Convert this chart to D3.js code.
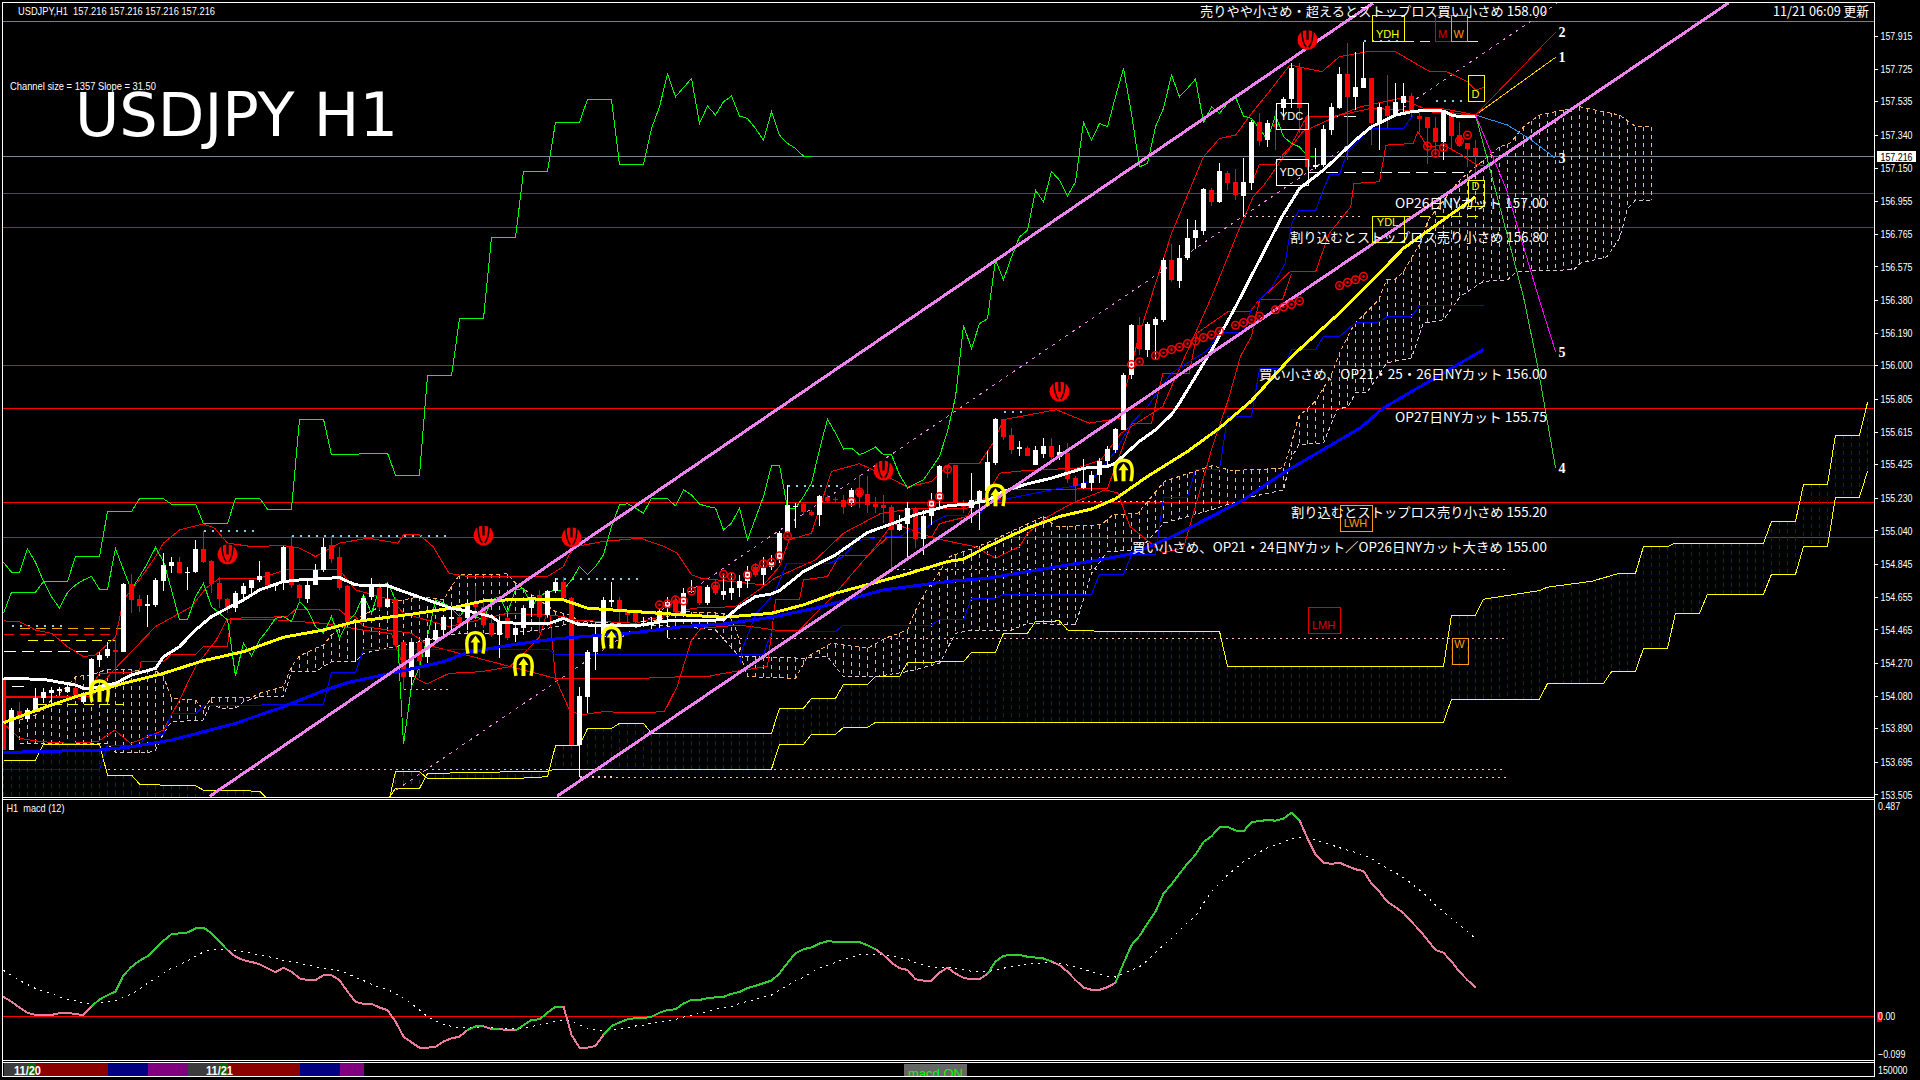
<!DOCTYPE html>
<html><head><meta charset="utf-8">
<style>html,body{margin:0;padding:0;background:#000;overflow:hidden}svg{display:block}</style>
<script src="https://cdn.jsdelivr.net/npm/d3@7"></script></head><body><svg id="c" width="1920" height="1080"></svg>
<script>
// ---- candles, bars -1 .. 183 ----
const firstBar=-1;
const open=[154.18,153.763,153.99,153.941,153.986,154.064,154.097,154.108,154.103,154.122,
154.044,154.093,154.287,154.312,154.345,154.331,154.729,154.64,154.603,154.607,
154.747,154.836,154.855,154.795,154.797,154.933,154.861,154.737,154.64,154.588,
154.671,154.704,154.749,154.797,154.719,154.747,154.941,154.723,154.642,154.723,
154.811,154.954,154.888,154.714,154.51,154.52,154.655,154.704,154.597,154.642,
154.394,154.186,154.394,154.306,154.403,154.461,154.527,154.539,154.529,154.626,
154.597,154.5,154.432,154.529,154.432,154.471,154.588,154.665,154.549,154.685,
154.743,154.646,153.792,154.073,154.331,154.419,154.626,154.636,154.568,154.558,
154.506,154.491,154.504,154.588,154.636,154.558,154.683,154.714,154.617,154.723,
154.665,154.679,154.704,154.747,154.83,154.782,154.83,154.869,155.028,155.175,
155.195,155.15,155.131,155.237,155.222,155.218,155.199,155.276,155.253,155.195,
155.189,155.175,155.043,155.078,155.17,154.989,155.125,155.218,155.416,155.422,
155.187,155.17,155.208,155.267,155.431,155.687,155.592,155.515,155.519,155.422,
155.486,155.528,155.466,155.49,155.344,155.286,155.315,155.364,155.445,155.509,
155.625,155.941,156.232,156.087,156.232,156.262,156.615,156.49,156.626,156.743,
156.781,157.018,156.95,157.119,157.065,156.985,157.061,157.412,157.309,157.402,
157.494,157.546,157.726,157.445,157.154,157.164,157.367,157.494,157.693,157.561,
157.614,157.668,157.406,157.507,157.455,157.523,157.565,157.449,157.441,157.377,
157.3,157.474,157.338,157.294,157.261];
const high=[154.18,154.006,154.044,154.006,154.122,154.122,154.132,154.132,154.145,154.17,
154.093,154.297,154.335,154.394,154.403,154.733,154.787,154.665,154.665,154.762,
154.908,154.888,154.888,154.83,154.985,155.034,154.869,154.772,154.646,154.685,
154.733,154.752,154.863,154.797,154.733,154.952,155.005,154.727,154.752,154.846,
154.995,155.005,154.946,154.723,154.52,154.665,154.762,154.737,154.733,154.655,
154.394,154.394,154.394,154.432,154.5,154.549,154.588,154.558,154.636,154.714,
154.636,154.529,154.539,154.539,154.481,154.597,154.665,154.694,154.694,154.762,
154.772,154.655,154.132,154.345,154.481,154.655,154.743,154.655,154.578,154.568,
154.539,154.539,154.588,154.655,154.655,154.704,154.752,154.714,154.723,154.752,
154.791,154.791,154.782,154.836,154.849,154.888,154.898,155.034,155.305,155.199,
155.199,155.16,155.247,155.247,155.237,155.247,155.286,155.364,155.358,155.237,
155.247,155.189,155.131,155.208,155.179,155.16,155.257,155.422,155.422,155.422,
155.218,155.373,155.276,155.499,155.693,155.687,155.635,155.558,155.528,155.528,
155.577,155.577,155.538,155.548,155.354,155.455,155.383,155.46,155.528,155.635,
155.955,156.242,156.281,156.252,156.281,156.621,156.708,156.698,156.853,156.844,
157.028,157.028,157.177,157.129,157.144,157.203,157.426,157.464,157.426,157.484,
157.561,157.755,157.755,157.455,157.261,157.396,157.523,157.736,157.876,157.819,
157.882,157.668,157.523,157.688,157.639,157.639,157.581,157.474,157.445,157.441,
157.484,157.474,157.416,157.294,157.309];
const low=[153.763,153.763,153.938,153.928,153.986,154.035,154.035,154.083,154.093,154.073,
154.035,154.044,154.248,154.297,154.132,154.331,154.558,154.568,154.481,154.597,
154.69,154.795,154.791,154.694,154.791,154.849,154.675,154.588,154.558,154.568,
154.636,154.675,154.743,154.694,154.685,154.694,154.704,154.626,154.617,154.723,
154.801,154.849,154.694,154.5,154.277,154.51,154.636,154.578,154.588,154.364,
154.116,154.141,154.18,154.267,154.384,154.413,154.442,154.481,154.461,154.539,
154.471,154.423,154.297,154.403,154.394,154.432,154.539,154.442,154.539,154.675,
154.64,153.792,153.608,153.976,154.229,154.413,154.597,154.5,154.5,154.481,
154.481,154.461,154.461,154.413,154.558,154.539,154.675,154.607,154.607,154.665,
154.636,154.636,154.655,154.704,154.772,154.723,154.811,154.849,155.024,155.053,
155.131,155.121,155.067,155.199,155.208,155.137,155.179,155.17,155.14,155.14,
155.082,154.82,155.034,154.879,154.937,154.898,155.073,155.179,155.344,155.189,
155.14,155.082,155.04,155.247,155.422,155.567,155.486,155.47,155.47,155.418,
155.46,155.441,155.451,155.315,155.208,155.28,155.267,155.315,155.412,155.49,
155.625,155.922,156.058,156.048,156.029,156.252,156.485,156.452,156.611,156.679,
156.756,156.925,156.944,157.018,156.96,156.863,157.018,157.276,157.27,157.251,
157.445,157.494,157.348,157.135,157.144,157.154,157.338,157.488,157.193,157.484,
157.61,157.28,157.251,157.377,157.445,157.455,157.445,157.358,157.173,157.222,
157.193,157.251,157.27,157.154,157.125];
const close=[153.763,153.996,153.961,153.996,154.064,154.099,154.112,154.116,154.132,154.083,
154.083,154.291,154.316,154.349,154.335,154.729,154.636,154.601,154.613,154.752,
154.84,154.857,154.791,154.799,154.933,154.855,154.729,154.64,154.588,154.675,
154.714,154.749,154.776,154.723,154.727,154.943,154.723,154.646,154.723,154.811,
154.943,154.873,154.704,154.51,154.52,154.646,154.729,154.597,154.64,154.374,
154.19,154.394,154.283,154.413,154.461,154.535,154.535,154.504,154.607,154.597,
154.491,154.432,154.51,154.413,154.471,154.588,154.636,154.539,154.69,154.739,
154.646,153.792,154.077,154.335,154.419,154.636,154.634,154.578,154.549,154.51,
154.514,154.51,154.574,154.626,154.568,154.679,154.69,154.617,154.71,154.679,
154.685,154.704,154.747,154.801,154.782,154.82,154.859,155.024,155.189,155.183,
155.15,155.131,155.241,155.212,155.216,155.179,155.276,155.237,155.189,155.179,
155.17,155.04,155.078,155.173,154.989,155.121,155.218,155.416,155.402,155.199,
155.179,155.218,155.272,155.437,155.687,155.583,155.505,155.523,155.474,155.509,
155.528,155.466,155.495,155.338,155.299,155.315,155.364,155.445,155.513,155.631,
155.941,156.232,156.097,156.238,156.271,156.615,156.498,156.626,156.743,156.785,
157.024,156.95,157.127,157.061,156.989,157.065,157.412,157.303,157.406,157.387,
157.546,157.726,157.494,157.154,157.164,157.371,157.499,157.693,157.561,157.616,
157.668,157.406,157.503,157.449,157.532,157.565,157.474,157.431,157.377,157.3,
157.474,157.333,157.276,157.257,157.216];
// ---- moving averages: [bar, price] ----
const maWhite=[[-1,154.18],[4,154.174],[8,154.141],[9,154.122],[10,154.122],[13,154.151],[15,154.2],[18,154.238],[19,154.306],[21,154.364],[23,154.461],[25,154.539],[27,154.588],[29,154.636],[31,154.694],[34,154.743],[36,154.752],[41,154.766],[43,154.723],[47,154.719],[49,154.685],[52,154.636],[55,154.588],[58,154.562],[60,154.539],[61,154.504],[67,154.496],[69,154.529],[71,154.491],[78,154.485],[82,154.514],[89,154.52],[91,154.597],[93,154.655],[95,154.671],[96,154.69],[99,154.801],[103,154.898],[107,155.028],[110,155.078],[113,155.131],[117,155.183],[120,155.195],[122,155.214],[124,155.267],[127,155.311],[130,155.344],[132,155.373],[134,155.402],[137,155.412],[138,155.431],[139,155.474],[141,155.558],[143,155.625],[145,155.713],[146,155.781],[150,156.087],[153,156.339],[156,156.611],[158.8,156.863],[161,157.028],[164,157.135],[166,157.222],[168,157.309],[170,157.387],[173,157.455],[175,157.474],[177,157.484],[179,157.478],[180,157.455],[181,157.445],[183,157.449]];
const maYellow=[[-1,153.922],[4,154.009],[8,154.073],[14,154.151],[19,154.209],[24,154.283],[29,154.335],[34,154.419],[39,154.461],[43,154.51],[50,154.553],[55,154.588],[59,154.63],[65,154.642],[69,154.636],[72,154.588],[78,154.568],[84,154.549],[89,154.535],[95,154.558],[99,154.607],[103,154.675],[108,154.737],[112,154.787],[117,154.859],[119,154.873],[122,154.946],[127,155.053],[131,155.121],[135,155.164],[138,155.224],[142,155.354],[147,155.499],[151,155.635],[155,155.794],[160,156.05],[166,156.304],[170,156.49],[174,156.68],[180,156.88],[183,156.979]];
const maBlue=[[-1,153.749],[11,153.763],[15,153.782],[20,153.821],[28,153.918],[34,154.015],[39,154.108],[42,154.155],[49,154.225],[54,154.277],[57,154.331],[63,154.378],[68,154.409],[70,154.417],[78,154.446],[84,154.481],[89,154.496],[95,154.535],[101,154.593],[109,154.694],[117,154.743],[122,154.762],[130,154.824],[136,154.869],[140,154.904],[145,155.001],[150,155.121],[154,155.218],[159,155.375],[168.6,155.636],[171.5,155.752],[184,156.091]];
// ---- thin stepped / band lines ----
const kijunBlue=[[-1,153.65],[11,153.65],[12,153.792],[16,153.792],[17,153.856],[19,153.856],[20,153.973],[23,153.973],[24,154.021],[39,154.029],[40,154.215],[43,154.215],[44,154.349],[67,154.349],[68,154.32],[94,154.32],[95,154.452],[103,154.452],[104,154.49],[115,154.49],[116,154.52],[119,154.52],[120,154.646],[123,154.646],[124,154.669],[135,154.669],[136,154.785],[139,154.785],[140,154.898],[143,154.898],[144,155.234],[147,155.234],[148,155.393],[151,155.393],[152,155.703],[155,155.703],[156,155.98],[159,155.98],[160,156.09],[163,156.09],[164,156.168],[166,156.168],[168,156.246],[171,156.252],[172,156.285],[175,156.285],[176,156.346],[184,156.346]];
const tenkanBlue=[[91.1,154.267],[91.3,154.345],[93.1,154.558],[95.4,154.675],[96.9,154.849],[102.3,154.849],[104,154.888],[105.6,154.979],[108.7,155.001],[111.2,155.005],[112.2,155.043],[114.3,155.053],[115.3,155.092],[116.8,155.125],[120.9,155.125],[122,155.2],[130,155.276],[133,155.299],[135,155.33],[138,155.5],[140,155.664],[142,155.76],[145,155.955],[147.2,156.019],[149.5,156.087],[151,156.188],[154,156.188],[155,156.33],[157.6,156.456],[159.2,156.591],[160,156.824],[160.9,156.898],[163,156.898],[163.8,156.999],[164.8,157.111],[166,157.111],[167,157.241],[169.8,157.377],[174,157.377],[175.5,157.474],[178.6,157.488],[180.7,157.445]];
const bandUpper=[[-1,154.514],[1,154.51],[3,154.461],[5,154.442],[7,154.364],[9,154.306],[10.5,154.316],[13,154.419],[14,154.636],[16,154.752],[18,154.888],[19,154.966],[21,155.043],[24,155.078],[25.4,155.053],[27,154.966],[30,154.946],[34,154.952],[36,154.937],[38,154.888],[41,154.966],[44.5,154.995],[48.3,154.966],[49,155.014],[51,155.014],[52.7,154.946],[54.7,154.791],[57,154.772],[67,154.772],[69,154.83],[69.7,154.898],[70.5,154.946],[74,154.976],[78.6,154.995],[81.6,154.946],[83.2,154.908],[85,154.782],[86.2,154.762],[94,154.723],[96,154.83],[97.2,154.985],[100,155.024],[102.5,155.383],[106,155.428],[109,155.364],[112,155.292],[115,155.325],[117.3,155.431],[121,155.431],[122.7,155.548],[124,155.684],[130.6,155.742],[134.7,155.664],[138.7,155.693],[139,155.815],[141,156.184],[145,156.766],[149,157.212],[151,157.319],[153,157.338],[155,157.464],[157.7,157.62],[159.8,157.746],[163.8,157.707],[166,157.794],[169.4,157.823],[173,157.823],[177.3,157.707],[179.4,157.707],[182,157.649],[183,157.6],[184,157.616]];
const bandMiddle=[[-1,154.073],[6,154.077],[10,154.073],[12.4,154.209],[18,154.481],[22.5,154.597],[24.3,154.704],[26,154.762],[31,154.762],[34.3,154.811],[41,154.811],[43,154.694],[47.6,154.636],[49,154.558],[54.7,154.481],[62,154.558],[67,154.549],[69,154.539],[70,154.52],[78,154.5],[85.2,154.588],[90.5,154.597],[95.4,154.762],[100.5,154.869],[104,155.024],[108.7,155.14],[113.3,155.17],[119.4,155.17],[121.7,155.228],[123.5,155.373],[127,155.389],[133.2,155.402],[136.2,155.451],[138.7,155.606],[143.9,155.761],[150,156.397],[153.4,156.785],[155.2,156.979],[156.7,157.057],[159,157.212],[161.4,157.358],[166,157.455],[168.6,157.503],[173.6,157.552],[176.5,157.494],[178.6,157.494],[181,157.474],[183,157.455]];
const bandLower=[[-1,153.918],[1,153.831],[3.7,153.812],[7.2,153.802],[10.8,153.812],[12.9,153.879],[14.9,153.802],[16,153.821],[19,153.879],[21,154.054],[23,154.248],[25.6,154.403],[26.9,154.52],[33,154.52],[39,154.5],[44,154.46],[47.5,154.44],[49,154.25],[50.6,154.18],[51.9,154.147],[54.7,154.209],[58.8,154.219],[62.3,154.248],[63.6,154.306],[66,154.42],[67.2,154.6],[68,154.18],[69.7,154.0],[71,153.967],[74,153.986],[78.2,153.98],[81.6,153.986],[83.2,154.132],[85,154.403],[86.2,154.471],[91,154.49],[95.4,154.461],[98.5,154.461],[103,154.675],[108,154.946],[110.2,155.082],[115.3,154.995],[120.4,154.946],[123,154.879],[126,154.946],[127,155.024],[129.6,155.121],[132.6,155.199],[136.7,155.276],[138.3,155.257],[139.8,155.063],[143.9,154.911],[146.5,154.937],[150,155.509],[152.1,155.8],[153.6,156.05],[155,156.17],[156,156.378],[159.8,156.543],[163,156.543],[164.7,156.766],[167.4,156.921],[167.8,157.057],[171,157.067],[171.8,157.28],[175.2,157.29],[175.8,157.358],[177,157.27],[179,157.28],[181,157.23],[183,157.17],[184,157.16]];
const stepRedA=[[-1,154.07],[8,154.07],[9,154.054],[11,154.209],[16,154.219],[16.2,154.277],[19,154.277],[20,154.32],[23,154.32],[24,154.364],[27,154.364],[27.4,154.529],[34.5,154.539],[35.4,154.578],[41,154.578],[42,154.539],[43,154.539],[44,154.481],[50,154.442],[52,154.374],[68,154.18],[78.6,154.18],[83.7,154.189],[87,154.19],[89,154.209],[94.5,154.25],[95.5,154.636],[98.5,154.636],[99,154.752],[102,154.772],[103.5,154.892],[107,154.892],[109.5,155.0],[115,155.0],[116,155.08],[119.5,155.121],[120.5,155.218],[123.5,155.218],[124,155.276],[133,155.276],[133.5,155.286],[137,155.286],[140,155.664],[142.5,155.664],[143.9,155.951],[147.2,155.951],[148.2,156.188],[152,156.31],[154.8,156.31],[156,156.384],[158.9,156.384],[160,156.533]];
const stepRedB=[[155.2,157.076],[156,157.17],[157.9,157.17],[159.8,157.27],[161.9,157.445],[165,157.445],[168,157.474],[170,157.494],[174,157.484],[183,157.455]];
// ---- lagging lines ----
const laggingStep=[[-1,154.558],[0,154.681],[3,154.681],[4,154.743],[7,154.743],[8,154.888],[11,154.888],[12,155.15],[15,155.15],[16,155.224],[19,155.224],[20,155.193],[23,155.193],[24,155.078],[27,155.078],[28,155.228],[31,155.228],[32,155.164],[35,155.164],[36,155.687],[39,155.687],[40,155.48],[43,155.48],[44,155.49],[47,155.49],[48,155.362],[51,155.362],[52,155.94],[55,155.94],[56,156.271],[59,156.271],[60,156.743],[63,156.743],[64,157.127],[67,157.127],[68,157.412],[71,157.412],[72,157.546],[75,157.546],[76,157.168],[79,157.168],[80,157.377],[81,157.503],[82,157.693],[83,157.561],[85,157.668],[86,157.406],[87,157.507],[88,157.455],[89,157.532],[90,157.565],[91,157.449],[92,157.435],[93,157.377],[94,157.309],[95,157.474],[96,157.338],[97,157.29],[98,157.261],[99,157.216],[100,157.216]];
const laggingClose=[154.855,154.797,154.797,154.933,154.855,154.743,154.655,154.588,154.679,154.723,
154.752,154.772,154.698,154.698,154.933,154.811,154.694,154.772,154.849,154.941,
154.859,154.694,154.52,154.52,154.655,154.733,154.597,154.558,154.52,154.194,
154.384,154.31,154.403,154.461,154.529,154.539,154.51,154.626,154.578,154.481,
154.442,154.539,154.413,154.51,154.558,154.665,154.558,154.704,154.737,154.636,
153.796,154.132,154.248,154.423,154.636,154.617,154.588,154.539,154.597,154.539,
154.52,154.636,154.655,154.562,154.694,154.704,154.597,154.655,154.685,154.69,
154.694,154.752,154.83,154.782,154.83,154.898,155.063,155.189,155.195,155.17,
155.14,155.228,155.226,155.224,155.183,155.276,155.247,155.193,155.179,155.17,
155.043,155.082,155.17,154.985,155.111,155.237,155.416,155.42,155.17,155.17,
155.237,155.315,155.509,155.687,155.606,155.513,155.519,155.48,155.499,155.525,
155.48,155.48,155.364,155.286,155.311,155.334,155.402,155.47,155.616,155.815,
156.232,156.097,156.242,156.271,156.611,156.498,156.63,156.747,156.785,157.018,
156.95,157.127,157.076,156.985,157.067,157.412,157.309,157.406,157.387,157.561,
157.726,157.464,157.154,157.173,157.387,157.494,157.688,157.561,157.61,157.664,
157.412,157.503,157.464,157.523,157.561,157.449,157.435,157.377,157.309,157.455,
157.329,157.29,157.27,157.216,157.216];
// ---- clouds ----
const cloudTop=[[1,153.938],[3,153.967],[5,154.054],[7,154.132],[8,154.19],[10,154.2],[12,154.233],[18,154.225],[19,154.19],[20,154.064],[23,154.054],[24,153.996],[25,154.068],[30,154.068],[31,154.093],[34,154.132],[35,154.248],[36,154.31],[38,154.355],[39,154.374],[40,154.432],[42,154.5],[44,154.549],[47,154.617],[51,154.655],[54,154.636],[55,154.714],[56,154.782],[62,154.787],[63,154.733],[68,154.568],[70,154.549],[71,154.5],[78,154.481],[84,154.568],[89,154.558],[90.1,154.52],[91,154.403],[91.5,154.25],[92,154.19],[98,154.18],[99.5,154.306],[102.5,154.384],[107,154.355],[109.2,154.413],[112,154.461],[112.8,154.558],[114.3,154.685],[117.3,154.888],[121.9,154.966],[124.5,155.024],[129,155.121],[130.6,155.063],[133.7,155.067],[136.2,155.073],[137.7,155.131],[140.8,155.14],[144.1,155.325],[150,155.416],[152.5,155.389],[156.1,155.394],[159,155.404],[159.9,155.53],[160.9,155.704],[163,155.791],[164.9,155.936],[166.1,156.081],[167.8,156.236],[170.9,156.381],[171.9,156.498],[173,156.501],[174,156.546],[176.1,156.71],[177.1,156.846],[181,157.076],[186,157.27],[187.3,157.29],[189,157.387],[191,157.455],[196,157.503],[201,157.455],[202.5,157.406],[203,157.387],[205,157.387]];
const cloudBottom=[[1,153.802],[12,153.802],[13,153.747],[17,153.747],[18,153.763],[19,153.86],[20,153.928],[24,153.938],[25,154.044],[26,154.005],[28,154.005],[29,154.044],[31,154.073],[34,154.073],[35,154.219],[38,154.219],[40,154.277],[43,154.277],[44,154.326],[48,154.364],[52,154.403],[56,154.442],[62,154.442],[66,154.461],[70,154.5],[72,154.51],[78,154.491],[84,154.481],[88,154.461],[91,154.306],[92,154.306],[99,154.297],[102,154.306],[104,154.19],[108,154.19],[112,154.219],[116,154.267],[118,154.442],[120,154.461],[125,154.461],[127,154.5],[133,154.491],[135,154.791],[137,154.917],[141,154.927],[144,155.082],[150,155.16],[155.3,155.239],[159,155.274],[159.9,155.452],[160.9,155.539],[164,155.549],[165.7,155.742],[167.1,155.762],[168,155.839],[169.4,155.839],[171.9,156.014],[175,156.043],[176.5,156.246],[179,156.265],[181.1,156.401],[184,156.488],[187,156.497],[188.2,156.546],[195.3,156.556],[196.1,156.594],[199.4,156.63],[201,156.737],[201.4,156.805],[202,156.911],[203,156.96],[205,156.96]];
const kumoUpperOld=[[-1,153.705],[3,153.705],[4,153.796],[11,153.796],[12,153.618],[15,153.618],[16,153.565],[19,153.559],[23,153.555],[24,153.53],[31,153.524],[32,153.48]];
const kumoUpper=[[47.3,153.491],[48,153.637],[51,153.637],[52,153.598],[63,153.598],[67,153.608],[68,153.788],[71,153.788],[72,153.889],[75,153.889],[76,153.918],[79,153.918],[80,153.86],[95,153.86],[96,154.006],[99,154.006],[100,154.064],[103,154.064],[104,154.145],[107,154.145],[108,154.19],[111,154.19],[112,154.273],[115,154.273],[116,154.277],[119,154.277],[120,154.331],[123,154.331],[124,154.442],[127,154.442],[128,154.51],[131,154.514],[132,154.461],[136,154.454],[151,154.454],[152,154.25],[179,154.25],[180,154.547],[183,154.547],[184,154.64],[191,154.69],[192,154.71],[197.5,154.744],[201,154.791],[203,154.791],[204,154.946],[207,154.946],[207.7,154.962],[219,154.966],[220,155.092],[223,155.092],[224,155.307],[227,155.307],[228,155.594],[231,155.594],[232,155.784]];
const kumoLower=[[47.3,153.491],[48,153.54],[51,153.54],[52,153.627],[67,153.641],[68,153.652],[95,153.652],[96,153.796],[99,153.796],[100,153.854],[103,153.854],[104,153.895],[107,153.895],[108,153.924],[179,153.924],[180,154.058],[191,154.058],[192,154.15],[199,154.15],[200,154.219],[203,154.219],[204,154.355],[207,154.355],[208,154.558],[211,154.558],[212,154.669],[219,154.669],[220,154.785],[223,154.785],[224,154.946],[227,154.946],[228,155.234],[231,155.234],[232,155.383]];
const panelFloor=153.4;
// ---- channel ----
const channelA=[[24.8,153.495],[170.2,158.106]];
const channelB=[[68.2,153.495],[214.6,158.106]];
const channelMid=[[47.3,153.506],[193.2,158.104]];
// ---- forecast ----
const forecast1=[[183,157.455],[193,157.79]];
const forecast2=[[183,157.455],[193,157.936]];
const forecast3=[[183,157.455],[187,157.397],[190,157.309],[193,157.203]];
const forecast4=[[183,157.455],[184.4,157.212],[189,156.397],[190.7,156.013],[193,155.404]];
const forecast5=[[183,157.455],[186.9,157.018],[191,156.378],[193,156.08]];
const forecastNames=["1","2","3","4","5"];
// ---- price levels ----
const levelPrices=[158,157,156.8,156,155.75,155.2,155];
const levelText=["売りやや小さめ・超えるとストップロス買い小さめ 158.00","OP26日NYカット 157.00","割り込むとストップロス売り小さめ 156.80","買い小さめ、OP21・25・26日NYカット 156.00","OP27日NYカット 155.75","割り込むとストップロス売り小さめ 155.20","買い小さめ、OP21・24日NYカット／OP26日NYカット大きめ 155.00"];
const lastPrice=157.216;
const priceTicks=[157.915,157.725,157.535,157.34,157.15,156.955,156.765,156.575,156.38,156.19,156,155.805,155.615,155.425,155.23,155.04,154.845,154.655,154.465,154.27,154.08,153.89,153.695,153.505];
const macdTicks=[0.487,0,-0.099];
// ---- dotted/dashed levels: [fromBar,toBar,price] ----
const longDotted=[[12,186.8,153.652],[71,187,153.604],[110.7,187,154.81],[82,187,154.41],[133,144,155.208],[154,169,156.867],[49,55,154.118],[71,75,153.608]];
const skyDotted=[[24,31,155.038],[35,55,155.008],[0,7,154.49],[68,79,154.758],[97,104,155.299],[124,127,155.732],[169,174,157.887],[178,182,157.538]];
const dashOrange=[[1,14,154.471]];
const dashRed=[[-1,13,154.436]];
const dashYellow=[[2,13,154.401],[3,14,154.029],[174,184,157.883],[174,184,156.863]];
const dashWhite=[[-1,10.3,154.335],[0,2,154.135],[162,168,157.445],[162,182,157.121]];
// ---- level tags ----
const tagNames=["YDH","M","W","D","D","YDC","YDO","YDL","LWH","LMH","W"];
const tagBars=[172,178.9,180.9,183,183,160,160,172,168,164,181];
const tagPrices=[157.959,157.959,157.959,157.61,156.999,157.448,157.123,156.79,155.114,154.518,154.337];
// ---- signals ----
const topSignals=[[27,154.901],[59,155.011],[70,155.0],[109,155.389],[131,155.847],[162,157.892]];
const bottomSignals=[[11,154.101],[58,154.382],[64,154.252],[75,154.411],[123,155.239],[139,155.384]];
const rings=[[81,154.607],[82,154.613],[83,154.636],[84,154.63],[85,154.688],[88,154.717],[89,154.785],[90,154.772],[92,154.782],[93,154.82],[94,154.846],[95,154.855],[96,154.892],[97,155.008],[105,155.208],[106,155.263],[115,155.195],[116,155.237],[117,155.396],[140,156.004],[141,156.021],[143,156.056],[144,156.073],[145,156.091],[146,156.106],[147,156.126],[148,156.141],[149,156.161],[150,156.178],[151,156.198],[153,156.233],[154,156.248],[155,156.265],[156,156.287],[158,156.323],[159,156.339],[160,156.354],[161,156.374],[166,156.463],[167,156.482],[168,156.497],[169,156.517],[177,157.274],[178,157.232],[179,157.266],[181,157.305],[182,157.338]];
// ---- macd, bars -1 .. 183 ----
const macdMain=[.044,.033,.020,.008,.003,.003,.003,.007,.008,.005,.003,.023,.038,.048,.056,.093,.112,.126,.136,.154,.171,.186,.188,.190,.199,.201,.188,.169,.150,.135,.127,.123,.118,.109,.100,.110,.101,.086,.082,.082,.093,.093,.082,.056,.033,.028,.028,.020,.014,-.012,-.046,-.059,-.071,-.071,-.069,-.057,-.050,-.046,-.031,-.023,-.023,-.029,-.028,-.032,-.032,-.020,-.008,-.007,.008,.022,.022,-.042,-.071,-.071,-.067,-.042,-.022,-.014,-.007,-.004,
-.004,-.001,.008,.014,.016,.029,.037,.037,.041,.043,.044,.051,.055,.064,.069,.075,.081,.097,.121,.143,.152,.156,.165,.170,.169,.168,.168,.168,.161,.152,.139,.121,.109,.105,.084,.081,.081,.099,.110,.097,.087,.084,.084,.096,.124,.137,.139,.139,.135,.133,.131,.124,.116,.101,.082,.065,.060,.060,.066,.076,.120,.161,.182,.210,.237,.278,.299,.323,.346,.366,.395,.408,.428,.429,.421,.419,.440,.442,.445,.443,
.448,.461,.444,.403,.367,.348,.345,.348,.340,.333,.329,.301,.282,.259,.247,.234,.214,.195,.173,.150,.144,.124,.101,.082,.066];
const macdSignal=[.104,.093,.081,.072,.063,.056,.052,.043,.039,.035,.029,.029,.031,.034,.035,.043,.051,.061,.075,.086,.097,.109,.116,.126,.136,.146,.152,.152,.150,.149,.147,.143,.139,.136,.131,.127,.123,.120,.116,.112,.109,.106,.103,.097,.088,.081,.073,.066,.061,.051,.041,.029,.014,-.001,-.010,-.018,-.023,-.026,-.026,-.026,-.023,-.026,-.029,-.028,-.028,-.026,-.023,-.020,-.016,-.011,-.008,-.012,-.020,-.027,-.031,-.032,-.032,-.029,-.027,-.022,
-.020,-.016,-.012,-.010,-.007,-.002,.002,.007,.011,.016,.020,.022,.029,.034,.038,.044,.048,.060,.069,.082,.088,.099,.109,.116,.122,.129,.133,.139,.141,.141,.140,.137,.133,.129,.121,.116,.111,.111,.111,.108,.106,.102,.101,.101,.105,.109,.112,.116,.118,.120,.121,.121,.119,.116,.112,.107,.101,.096,.091,.089,.097,.105,.112,.127,.144,.161,.176,.195,.212,.227,.256,.282,.301,.320,.335,.350,.361,.372,.382,.388,
.394,.403,.406,.406,.400,.393,.388,.382,.376,.371,.365,.357,.346,.335,.325,.314,.301,.286,.271,.252,.237,.222,.207,.192,.176];
// ---- session strip ----
const sessionBars=[-1,2,3,12,17,22,26,27,36,41,44];
const sessionKinds=["gap","start","tokyo","london","ny","gap","start","tokyo","london","ny"];
const dayLabels=[{text:"11/20",bar:2},{text:"11/21",bar:26}];
const strings={header:"USDJPY,H1  157.216 157.216 157.216 157.216",updated:"11/21 06:09 更新",channel:"Channel size = 1357 Slope = 31.50",title:"USDJPY H1",macd:"H1  macd (12)",button:"macd ON",volume:"150000"};

// ====== drawing ======
const svg=d3.select("#c");
const sans="'Liberation Sans',Arial,sans-serif", jp="'Noto Sans CJK JP','Noto Sans',sans-serif";
const X=d3.scaleLinear().domain([0,183]).range([11.5,1475.5]);
const Y=d3.scaleLinear().domain([155,158]).range([537.3,21.3]);
const M=d3.scaleLinear().domain([-0.099,0.487]).range([1060,801.3]);
const RIGHT=1874;
svg.append("rect").attr("width",1920).attr("height",1080).attr("fill","#000");
const defs=svg.append("defs");
defs.append("clipPath").attr("id","mainClip").append("rect").attr("x",3).attr("y",3).attr("width",RIGHT-3).attr("height",794);
defs.append("clipPath").attr("id","btnClip").append("rect").attr("x",904).attr("y",1064).attr("width",63).attr("height",12);
const main=svg.append("g").attr("clip-path","url(#mainClip)").style("shape-rendering","crispEdges");
const line=d3.line().x(d=>X(d[0])).y(d=>Y(d[1]));
const poly=(g,data,color,w,dash)=>{const p=g.append("path").attr("d",line(data)).attr("fill","none").attr("stroke",color).attr("stroke-width",w);if(dash)p.attr("stroke-dasharray",dash);return p;};
const interp=(arr,i)=>{if(i<arr[0][0]||i>arr[arr.length-1][0])return null;for(let k=1;k<arr.length;k++){if(i<=arr[k][0]){const a=arr[k-1],b=arr[k];return a[1]+(b[1]-a[1])*(i-a[0])/(b[0]-a[0]||1);}}return null;};
const pix=v=>Math.floor(v)+0.5;
const vertical=(g,i,a,b,color,dash)=>{g.append("line").attr("x1",pix(X(i))).attr("x2",pix(X(i))).attr("y1",Y(a)).attr("y2",Y(b)).attr("stroke",color).attr("stroke-dasharray",dash);};

// levels
main.selectAll(".lv").data(levelPrices).join("line").attr("x1",3).attr("x2",RIGHT).attr("y1",d=>pix(Y(d))).attr("y2",d=>pix(Y(d))).attr("stroke",(d,i)=>i===0?"#2f8fe0":"#ff0000");
main.append("line").attr("x1",3).attr("x2",RIGHT).attr("y1",pix(Y(lastPrice))).attr("y2",pix(Y(lastPrice))).attr("stroke","#778899");

// yellow kumo
const gk=main.append("g");
d3.range(-1,32).forEach(i=>{const t=interp(kumoUpperOld,i);if(t!==null)vertical(gk,i,t,panelFloor,"#0000ff","4 4");});
d3.range(48,233).forEach(i=>{const t=interp(kumoUpper,i),b=interp(kumoLower,i);if(t!==null&&b!==null)vertical(gk,i,t,b,i<52?"#a00000":"#0000ff","4 4");});
poly(gk,kumoUpperOld,"#ffff00",1);poly(gk,kumoUpper,"#ffff00",1);poly(gk,kumoLower,"#ffff00",1);

// orange cloud
const gc=main.append("g");
d3.range(1,206).forEach(i=>{const t=interp(cloudTop,i),b=interp(cloudBottom,i);if(t!==null&&b!==null)vertical(gc,i,t,b,"#ffb366","4 4");});
poly(gc,cloudTop,"#ffb366",1,"4 3");poly(gc,cloudBottom,"#dcc8d8",1,"4 3");

// long dotted levels
const hseg=(g,arr,color,dash,w)=>arr.forEach(a=>g.append("line").attr("x1",X(a[0])).attr("x2",X(a[1])).attr("y1",pix(Y(a[2]))).attr("y2",pix(Y(a[2]))).attr("stroke",color).attr("stroke-dasharray",dash).attr("stroke-width",w||1));
hseg(main,longDotted,"#ffc0cb","2 4",1);
hseg(main,skyDotted,"#87ceeb","2 6",2);
hseg(main,dashOrange,"#ffa500","10 6");
hseg(main,dashRed,"#ff0000","10 6");
hseg(main,dashYellow,"#ffff00","10 6");
hseg(main,dashWhite,"#ffffff","12 6");

// channel mid dotted
poly(main,channelMid,"#ee82ee",1,"3 5");

// red bands and blue steps
[bandUpper,bandMiddle,bandLower,stepRedA,stepRedB].forEach(a=>poly(main,a,"#ff0000",1));
[kijunBlue,tenkanBlue].forEach(a=>poly(main,a,"#0000ff",1));
// lagging lines
poly(main,laggingStep,"#00ff00",1);
poly(main,laggingClose.map((v,k)=>[k+firstBar,v]),"#00ff00",1);

// candles
const bars=d3.range(open.length);
const cg=main.append("g");
cg.selectAll("line").data(bars).join("line").attr("x1",k=>pix(X(k+firstBar))).attr("x2",k=>pix(X(k+firstBar))).attr("y1",k=>Y(high[k])).attr("y2",k=>Y(low[k])).attr("stroke",k=>close[k]>=open[k]?"#fff":"#f00");
cg.selectAll("rect").data(bars).join("rect").attr("x",k=>Math.floor(X(k+firstBar))-2).attr("width",5)
 .attr("y",k=>Y(Math.max(open[k],close[k]))).attr("height",k=>Math.max(1,Math.abs(Y(open[k])-Y(close[k])))).attr("fill",k=>close[k]>=open[k]?"#fff":"#f00");

// moving averages
poly(main,maBlue,"#0000ff",3);
poly(main,maYellow,"#ffff00",3);
poly(main,maWhite,"#ffffff",3);
// channel
poly(main,channelA,"#ee82ee",3);
poly(main,channelB,"#ee82ee",3);
// forecast
poly(main,forecast1,"#ffc800",1);poly(main,forecast2,"#e00000",1);poly(main,forecast3,"#2f8fe0",1);poly(main,forecast4,"#32cd32",1);poly(main,forecast5,"#ff00ff",1);
[forecast1,forecast2,forecast3,forecast4,forecast5].forEach((f,k)=>{const e=f[f.length-1];svg.append("text").attr("x",X(193.8)).attr("y",Y(e[1])+5).attr("text-anchor","middle").attr("fill","#fff").attr("font-family","'Liberation Serif',serif").attr("font-weight","bold").attr("font-size",14).text(forecastNames[k]);});

// rings
const rg=main.append("g").style("shape-rendering","auto");
rg.selectAll("circle.o").data(rings).join("circle").attr("class","o").attr("cx",d=>X(d[0])).attr("cy",d=>Y(d[1])).attr("r",3.8).attr("fill","none").attr("stroke","#ff0000").attr("stroke-width",1.5);
rg.selectAll("circle.i").data(rings).join("circle").attr("class","i").attr("cx",d=>X(d[0])).attr("cy",d=>Y(d[1])).attr("r",1.3).attr("fill","#ff0000");

// arrows
const sg=main.append("g").style("shape-rendering","auto");
topSignals.forEach(d=>{const g=sg.append("g").attr("transform",`translate(${X(d[0])},${Y(d[1])})`);
 g.append("circle").attr("r",10).attr("fill","#ff0000");
 g.append("path").attr("d","M-1.2,-11L1.2,-11L1.2,0L-1.2,0Z").attr("fill","#000");
 g.append("path").attr("d","M-5.5,-10Q-5.5,3 -1.2,7.5M5.5,-10Q5.5,3 1.2,7.5").attr("stroke","#000").attr("stroke-width",1.5).attr("fill","none");});
bottomSignals.forEach(d=>{const g=sg.append("g").attr("transform",`translate(${X(d[0])},${Y(d[1])})`);
 g.append("path").attr("d","M-7.5,10Q-12,-11 0,-11Q12,-11 7.5,10").attr("stroke","#ffff00").attr("stroke-width",3.4).attr("fill","none");
 g.append("path").attr("d","M-2,10L-2,-1L-5,-1L0,-8L5,-1L2,-1L2,10Z").attr("fill","#ffff00");});

// tags
const tagColor={YDH:"#ffff00",YDL:"#ffff00",D:"#ffff00",M:"#e00000",W:"#ff9a1a",LWH:"#ff9a1a",LMH:"#e00000",YDC:"#ffffff",YDO:"#ffffff"};
const tagTextDy=[5.7,5.7,5.7,5.7,-7,0,0,-7,5.7,5,-7];
tagNames.forEach((n,k)=>{const w=n.length>1?32:16,h=26,cx=X(tagBars[k]),cy=Y(tagPrices[k]);
 main.append("rect").attr("x",Math.round(cx-w/2)+0.5).attr("y",Math.round(cy-h/2)+0.5).attr("width",w).attr("height",h).attr("fill","none").attr("stroke",tagColor[n]);
 svg.append("text").attr("x",cx).attr("y",cy+tagTextDy[k]+4).attr("text-anchor","middle").attr("fill",tagColor[n]).attr("font-family",sans).attr("font-size",11).text(n);});

// level text
const levelWidths=[347,152,257,288,152,256,415];
const levelDy=[-10.6,9.4,9.4,8.6,9,9,9.4];
levelText.forEach((t,k)=>svg.append("text").attr("x",1547).attr("y",Y(levelPrices[k])+levelDy[k]+5).attr("text-anchor","end").attr("fill","#fff").attr("font-family",jp).attr("font-size",13).attr("textLength",levelWidths[k]).attr("lengthAdjust","spacingAndGlyphs").text(t));

const txt=(x,y,t,o={})=>svg.append("text").attr("x",x).attr("y",y).attr("fill",o.fill||"#fff").attr("font-family",o.font||sans).attr("font-size",o.size||11).attr("font-weight",o.weight||null).attr("text-anchor",o.anchor||"start").attr("textLength",o.len||null).attr("lengthAdjust",o.len?"spacingAndGlyphs":null).attr("xml:space","preserve").style("white-space","pre").text(t);
txt(18,14.5,strings.header,{len:197,size:11});
txt(1869,15.5,strings.updated,{anchor:"end",font:jp,size:13,len:96});
txt(10,89.5,strings.channel,{len:146,size:11});
txt(75,136,strings.title,{font:"'DejaVu Sans',sans-serif",size:61,len:323});
txt(6.5,812,strings.macd,{len:58,size:11});

// axes
const squeeze=0.77;
const ax=svg.append("g").attr("transform",`translate(${RIGHT+0.5},0)`).call(d3.axisRight(Y).tickValues(priceTicks).tickSize(3).tickPadding(4).tickFormat(d3.format(".3f")));
ax.select(".domain").remove();
ax.selectAll("line").attr("stroke","#fff").style("shape-rendering","crispEdges");
ax.selectAll("text").attr("fill","#fff").attr("font-family",sans).attr("font-size",11.5).attr("x",0).attr("transform",`translate(6,0) scale(${squeeze},1)`);
// last price tag
svg.append("rect").attr("x",1877).attr("y",Math.floor(Y(lastPrice))-5).attr("width",39).attr("height",11).attr("fill","#fff");
svg.append("text").attr("transform",`translate(1880.5,${Y(lastPrice)+4.5}) scale(${squeeze},1)`).attr("fill","#000").attr("font-family",sans).attr("font-size",11.5).text(d3.format(".3f")(lastPrice));

// macd panel
const mg=svg.append("g").style("shape-rendering","crispEdges");
mg.append("line").attr("x1",3).attr("x2",RIGHT).attr("y1",pix(M(0))).attr("y2",pix(M(0))).attr("stroke","#ff0000");
const mline=d3.line().x(d=>X(d[0])).y(d=>M(d[1]));
mg.append("path").attr("d",mline(macdSignal.map((v,k)=>[k+firstBar,v]))).attr("fill","none").attr("stroke","#fff").attr("stroke-dasharray","2 5");
macdMain.forEach((v,k)=>{if(k===0)return;const up=macdMain[k]>=macdSignal[k];
 mg.append("path").attr("d",mline([[k-1+firstBar,macdMain[k-1]],[k+firstBar,v]])).attr("fill","none").attr("stroke",up?"#32cd32":"#e87ca0").attr("stroke-width",2).attr("stroke-linecap","round");});
svg.append("rect").attr("x",1877).attr("y",1012).attr("width",5).attr("height",10).attr("fill","#ff0000");
const maxis=svg.append("g").attr("transform",`translate(${RIGHT+0.5},0)`).call(d3.axisRight(M).tickValues(macdTicks).tickSize(0).tickPadding(4).tickFormat(d=>d===0?"0.00":d3.format(".3f")(d)));
maxis.select(".domain").remove();
maxis.selectAll("text").attr("fill","#fff").attr("font-family",sans).attr("font-size",11.5).attr("x",0).attr("transform",d=>`translate(3.5,${d>0.4?5:d<0?-6:0}) scale(${squeeze},1)`);

// session strip
const kindColor={gap:"#3c3c3c",start:"#006400",tokyo:"#8b0000",london:"#000080",ny:"#800080"};
const sg2=svg.append("g").style("shape-rendering","crispEdges");
sessionKinds.forEach((k,j)=>sg2.append("rect").attr("x",X(sessionBars[j])).attr("width",X(sessionBars[j+1])-X(sessionBars[j])).attr("y",1063).attr("height",13).attr("fill",kindColor[k]));
dayLabels.forEach(d=>txt(X(d.bar),1074.5,d.text,{anchor:"middle",size:12.5,weight:"bold",len:27}));
// button
svg.append("rect").attr("x",904).attr("y",1064).attr("width",63).attr("height",12).attr("fill","#666").style("shape-rendering","crispEdges");
svg.append("g").attr("clip-path","url(#btnClip)").append("text").attr("x",935.5).attr("y",1078).attr("text-anchor","middle").attr("fill","#00ff00").attr("font-family",sans).attr("font-size",13).text(strings.button);
svg.append("text").attr("transform",`translate(1878,1073.5) scale(${squeeze},1)`).attr("fill","#fff").attr("font-family",sans).attr("font-size",11.5).text(strings.volume);

// frame
const fr=svg.append("g").style("shape-rendering","crispEdges").attr("stroke","#fff");
[2.5,797.5,799.5,1060.5,1062.5,1076.5].forEach(y=>fr.append("line").attr("x1",2).attr("x2",RIGHT+1).attr("y1",y).attr("y2",y));
fr.append("line").attr("x1",2.5).attr("x2",2.5).attr("y1",2).attr("y2",1077);
fr.append("line").attr("x1",RIGHT+0.5).attr("x2",RIGHT+0.5).attr("y1",2).attr("y2",1077);
</script></body></html>
